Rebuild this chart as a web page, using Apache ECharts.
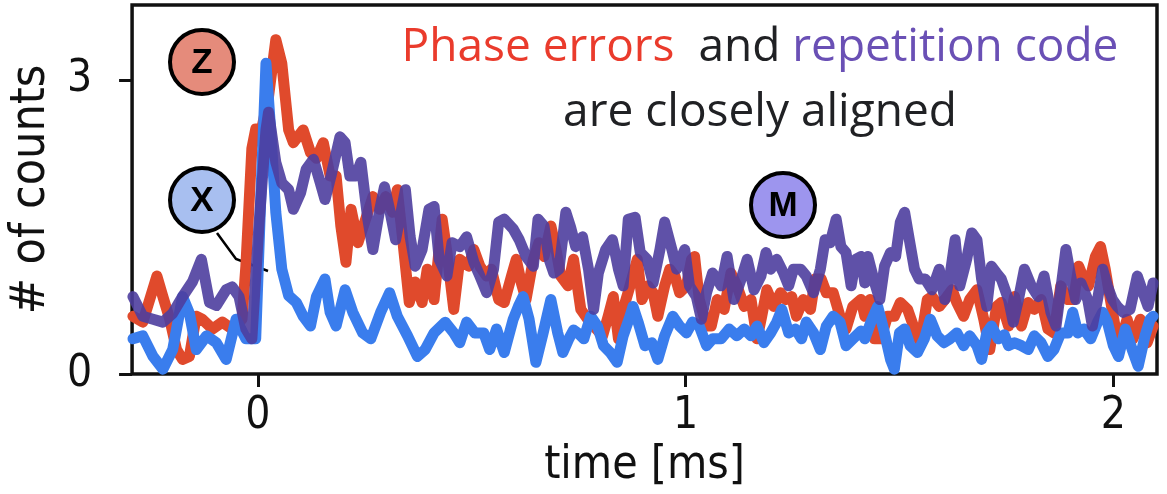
<!DOCTYPE html>
<html><head><meta charset="utf-8">
<script src="https://cdn.jsdelivr.net/npm/echarts@6/dist/echarts.min.js"></script>
<style>html,body{margin:0;padding:0;background:#fff}#c{width:1167px;height:494px}</style>
</head><body><div id="c"></div>
<script>
// time [ms] and counts for each trace
const redT = [-0.292,-0.269,-0.236,-0.222,-0.206,-0.190,-0.176,-0.160,-0.144,-0.130,-0.106,-0.083,-0.060,-0.037,-0.028,-0.014,-0.005,0.009,0.025,0.042,0.056,0.072,0.083,0.106,0.123,0.137,0.153,0.169,0.183,0.194,0.206,0.218,0.234,0.252,0.269,0.285,0.299,0.315,0.326,0.338,0.354,0.368,0.384,0.396,0.412,0.431,0.442,0.458,0.472,0.493,0.505,0.519,0.535,0.546,0.563,0.576,0.593,0.604,0.616,0.627,0.644,0.657,0.669,0.685,0.697,0.708,0.725,0.738,0.755,0.771,0.785,0.806,0.819,0.831,0.843,0.854,0.870,0.887,0.898,0.912,0.924,0.935,0.951,0.963,0.975,0.986,1.002,1.014,1.021,1.032,1.049,1.060,1.074,1.090,1.106,1.120,1.137,1.153,1.167,1.178,1.190,1.206,1.222,1.234,1.248,1.259,1.275,1.292,1.303,1.317,1.329,1.345,1.361,1.375,1.391,1.410,1.419,1.431,1.442,1.456,1.472,1.488,1.502,1.519,1.535,1.549,1.565,1.576,1.593,1.606,1.623,1.634,1.650,1.664,1.681,1.697,1.711,1.727,1.738,1.755,1.769,1.785,1.801,1.815,1.831,1.847,1.861,1.877,1.894,1.907,1.919,1.931,1.942,1.958,1.970,1.981,1.993,2.005,2.016,2.032,2.046,2.063,2.079,2.093];
const redV = [0.59,0.53,1.0,0.79,0.56,0.25,0.15,0.18,0.59,0.56,0.46,0.53,0.46,0.56,1.1,2.3,2.5,2.5,2.83,3.41,3.17,2.49,2.36,2.49,2.26,2.2,2.36,2.02,2.02,1.51,1.14,1.68,1.34,1.58,1.81,1.68,1.81,1.65,1.88,1.4,0.73,0.94,0.73,1.07,0.76,1.58,1.24,0.66,1.17,1.1,1.27,1.1,1.0,1.07,0.76,0.73,1.0,1.17,0.93,0.76,1.17,1.34,1.2,1.51,1.27,1.0,0.9,1.17,0.66,0.56,0.49,0.39,0.59,0.79,0.36,0.66,0.9,1.17,0.76,0.9,0.83,0.59,0.9,1.07,1.0,0.83,0.9,1.17,1.2,0.76,0.49,0.49,0.76,0.66,1.03,0.9,0.69,0.76,0.36,0.59,0.86,0.69,0.83,0.76,0.79,0.59,0.76,0.66,0.97,0.97,0.83,0.83,0.59,0.46,0.69,0.76,0.59,0.76,0.36,0.36,0.59,0.59,0.73,0.66,0.46,0.32,0.76,0.79,0.69,0.76,0.86,0.73,0.59,0.76,0.86,0.56,0.25,0.69,0.73,0.49,0.79,0.49,0.73,0.66,0.76,0.46,0.42,0.9,0.76,0.76,1.1,0.97,0.9,1.2,1.3,1.07,0.76,0.46,0.32,0.56,0.36,0.56,0.32,0.49];
const purT = [-0.292,-0.269,-0.245,-0.222,-0.199,-0.176,-0.153,-0.132,-0.113,-0.097,-0.074,-0.060,-0.044,-0.028,-0.014,0.002,0.019,0.025,0.042,0.056,0.072,0.083,0.100,0.113,0.130,0.146,0.157,0.171,0.192,0.204,0.215,0.229,0.241,0.257,0.269,0.285,0.296,0.308,0.322,0.345,0.356,0.368,0.384,0.400,0.412,0.424,0.442,0.454,0.472,0.488,0.505,0.519,0.535,0.551,0.563,0.576,0.597,0.611,0.627,0.644,0.655,0.669,0.681,0.692,0.704,0.720,0.731,0.743,0.759,0.773,0.785,0.796,0.813,0.829,0.843,0.854,0.866,0.882,0.894,0.910,0.924,0.940,0.951,0.968,0.979,0.998,1.009,1.025,1.037,1.049,1.063,1.074,1.083,1.097,1.113,1.130,1.144,1.160,1.176,1.188,1.199,1.213,1.229,1.241,1.252,1.269,1.282,1.299,1.315,1.326,1.338,1.352,1.363,1.375,1.387,1.398,1.410,1.419,1.426,1.442,1.454,1.465,1.479,1.491,1.502,1.512,1.523,1.535,1.546,1.560,1.576,1.593,1.606,1.618,1.630,1.641,1.657,1.669,1.681,1.692,1.704,1.715,1.727,1.738,1.755,1.766,1.778,1.792,1.808,1.824,1.838,1.854,1.866,1.877,1.889,1.900,1.912,1.924,1.940,1.951,1.963,1.975,1.986,1.998,2.009,2.023,2.039,2.056,2.067,2.081,2.093];
const purV = [0.79,0.59,0.56,0.53,0.62,0.79,0.94,1.17,0.73,0.70,0.86,0.89,0.79,0.46,0.36,1.48,2.49,2.67,2.16,1.95,1.88,1.68,1.85,2.09,2.19,1.95,1.78,2.02,2.42,2.36,2.02,2.02,2.16,1.58,1.27,1.68,1.91,1.68,1.37,1.88,1.40,1.10,1.27,1.68,1.71,1.17,1.00,1.34,1.30,1.40,1.14,1.00,0.83,1.07,1.55,1.58,1.48,1.37,1.20,1.10,1.58,1.51,1.17,1.03,1.07,1.65,1.50,1.30,1.40,1.07,0.66,1.03,1.27,1.37,1.07,0.90,1.58,1.60,1.24,1.17,0.93,1.27,1.55,1.27,1.07,1.27,0.90,0.79,0.56,0.83,1.03,0.97,0.90,1.20,0.76,0.97,1.17,0.86,1.00,1.24,1.07,1.17,1.03,0.90,1.07,1.07,1.00,0.83,1.07,1.37,1.34,1.58,1.30,1.24,0.90,1.17,1.20,0.93,1.20,0.93,0.76,1.10,1.24,1.20,1.55,1.65,1.37,1.07,0.97,0.97,0.86,1.07,0.76,1.00,1.37,0.90,1.17,1.44,1.37,0.97,0.69,1.10,1.03,0.97,0.76,0.53,0.76,1.07,0.90,0.79,1.00,0.63,0.49,0.86,1.27,1.00,0.76,0.93,0.76,0.49,0.76,1.07,0.90,0.76,0.69,0.63,0.66,1.00,0.86,0.69,0.93];
const bluT = [-0.292,-0.269,-0.245,-0.222,-0.199,-0.176,-0.160,-0.144,-0.120,-0.097,-0.074,-0.051,-0.028,-0.005,0.007,0.019,0.030,0.042,0.056,0.072,0.090,0.106,0.123,0.137,0.157,0.169,0.183,0.204,0.222,0.245,0.264,0.287,0.308,0.326,0.350,0.373,0.391,0.412,0.438,0.458,0.472,0.488,0.507,0.528,0.542,0.558,0.576,0.597,0.609,0.620,0.634,0.650,0.667,0.685,0.701,0.713,0.727,0.738,0.748,0.762,0.778,0.794,0.808,0.824,0.840,0.854,0.870,0.877,0.889,0.905,0.921,0.935,0.951,0.970,0.986,1.002,1.016,1.032,1.049,1.063,1.083,1.102,1.120,1.137,1.153,1.167,1.183,1.199,1.213,1.225,1.241,1.257,1.271,1.282,1.299,1.315,1.329,1.345,1.361,1.375,1.391,1.410,1.419,1.433,1.449,1.465,1.479,1.488,1.500,1.512,1.525,1.542,1.558,1.572,1.588,1.604,1.618,1.634,1.650,1.664,1.681,1.692,1.704,1.715,1.731,1.745,1.755,1.769,1.785,1.801,1.815,1.831,1.847,1.861,1.877,1.894,1.905,1.917,1.931,1.947,1.963,1.975,1.986,2.000,2.012,2.028,2.044,2.058,2.074,2.086,2.093];
const bluV = [0.36,0.39,0.18,0.05,0.25,0.79,0.62,0.25,0.39,0.32,0.15,0.56,0.36,0.36,1.81,3.17,2.49,1.65,1.07,0.80,0.73,0.59,0.49,0.79,0.97,0.63,0.49,0.86,0.63,0.42,0.36,0.63,0.83,0.59,0.39,0.18,0.25,0.42,0.53,0.42,0.32,0.53,0.42,0.42,0.25,0.46,0.22,0.56,0.69,0.79,0.56,0.12,0.42,0.76,0.42,0.22,0.36,0.45,0.42,0.36,0.59,0.49,0.29,0.22,0.12,0.39,0.59,0.69,0.53,0.29,0.32,0.15,0.39,0.59,0.49,0.42,0.53,0.49,0.29,0.36,0.36,0.46,0.39,0.46,0.39,0.49,0.32,0.42,0.53,0.66,0.42,0.46,0.36,0.53,0.42,0.25,0.49,0.59,0.53,0.29,0.36,0.44,0.36,0.53,0.69,0.42,0.15,0.05,0.42,0.46,0.29,0.22,0.36,0.56,0.39,0.32,0.36,0.42,0.29,0.39,0.29,0.15,0.42,0.49,0.36,0.40,0.29,0.32,0.29,0.25,0.39,0.32,0.18,0.25,0.42,0.42,0.63,0.42,0.46,0.36,0.53,0.63,0.53,0.29,0.18,0.46,0.25,0.08,0.39,0.56,0.59];
const xTicks = [0, 1, 2];
const yTicks = [0, 3];

const pair = (t, v) => t.map((x, i) => [x, v[i]]);
const tickFont = 'DejaVu Sans Condensed, DejaVu Sans';
const chart = echarts.init(document.getElementById('c'), null, {renderer: 'canvas'});
const badge = (cx, cy, fill, letter) => ([
  {type: 'circle', x: cx, y: cy, z: 50, shape: {cx: 0, cy: 0, r: 32}, style: {fill: fill, stroke: '#000', lineWidth: 4}},
  {type: 'text', x: cx, y: cy + 1, z: 51, style: {text: letter, align: 'center', verticalAlign: 'middle', font: 'bold 35px "Liberation Sans", Arial', fill: '#000'}}
]);
chart.setOption({
  animation: false,
  grid: {left: 122, right: 10, top: 5, bottom: 119, show: true, borderColor: '#111', borderWidth: 3.5},
  xAxis: {
    type: 'value', min: -0.294, max: 2.102,
    axisLine: {show: false, onZero: false}, splitLine: {show: false},
    axisTick: {show: true, customValues: xTicks, length: 13, lineStyle: {color: '#111', width: 3}},
    axisLabel: {customValues: xTicks, fontFamily: tickFont, fontSize: 44, color: '#111', margin: 20},
    name: 'time [ms]', nameLocation: 'middle', nameGap: 68,
    nameTextStyle: {fontFamily: tickFont, fontSize: 46, color: '#111'}
  },
  yAxis: {
    type: 'value', min: 0, max: 3.764,
    axisLine: {show: false, onZero: false}, splitLine: {show: false},
    axisTick: {show: true, customValues: yTicks, length: 13, lineStyle: {color: '#111', width: 3}},
    axisLabel: {customValues: yTicks, fontFamily: tickFont, fontSize: 44, color: '#111', margin: 40},
    name: '# of counts', nameLocation: 'middle', nameGap: 58,
    nameTextStyle: {fontFamily: tickFont, fontSize: 48, color: '#111'}
  },
  series: [
    {type: 'line', data: pair(redT, redV), showSymbol: false, z: 2,
     lineStyle: {color: '#e04a2c', width: 11, join: 'round', cap: 'round'}},
    {type: 'line', data: pair(bluT, bluV), showSymbol: false, z: 3,
     lineStyle: {color: '#3a7ded', width: 11, join: 'round', cap: 'round'}},
    {type: 'line', data: pair(purT, purV), showSymbol: false, z: 4,
     lineStyle: {color: '#4e3e9e', width: 11, opacity: 0.9, join: 'round', cap: 'round'}}
  ],
  graphic: [
    {type: 'polyline', z: 0, shape: {points: [[217, 233], [236, 259], [268, 271]]},
     style: {stroke: '#000', lineWidth: 2.5, fill: null}},
    ...badge(202, 62, '#e58b7b', 'Z'),
    ...badge(202, 200, '#a8bff0', 'X'),
    ...badge(783, 205, '#9d95ee', 'M'),
    {type: 'text', x: 760, y: 80.5, z: 50,
     style: {
       text: '{r|Phase errors}{k|  and }{p|repetition code}\n{k|are closely aligned}',
       align: 'center', verticalAlign: 'middle',
       rich: {
         r: {fill: '#ea3b2c', fontFamily: 'Open Sans', fontSize: 46, lineHeight: 65},
         k: {fill: '#202124', fontFamily: 'Open Sans', fontSize: 46, lineHeight: 65},
         p: {fill: '#6a50b5', fontFamily: 'Open Sans', fontSize: 46, lineHeight: 65}
       }
     }}
  ]
});
</script>
</body></html>
